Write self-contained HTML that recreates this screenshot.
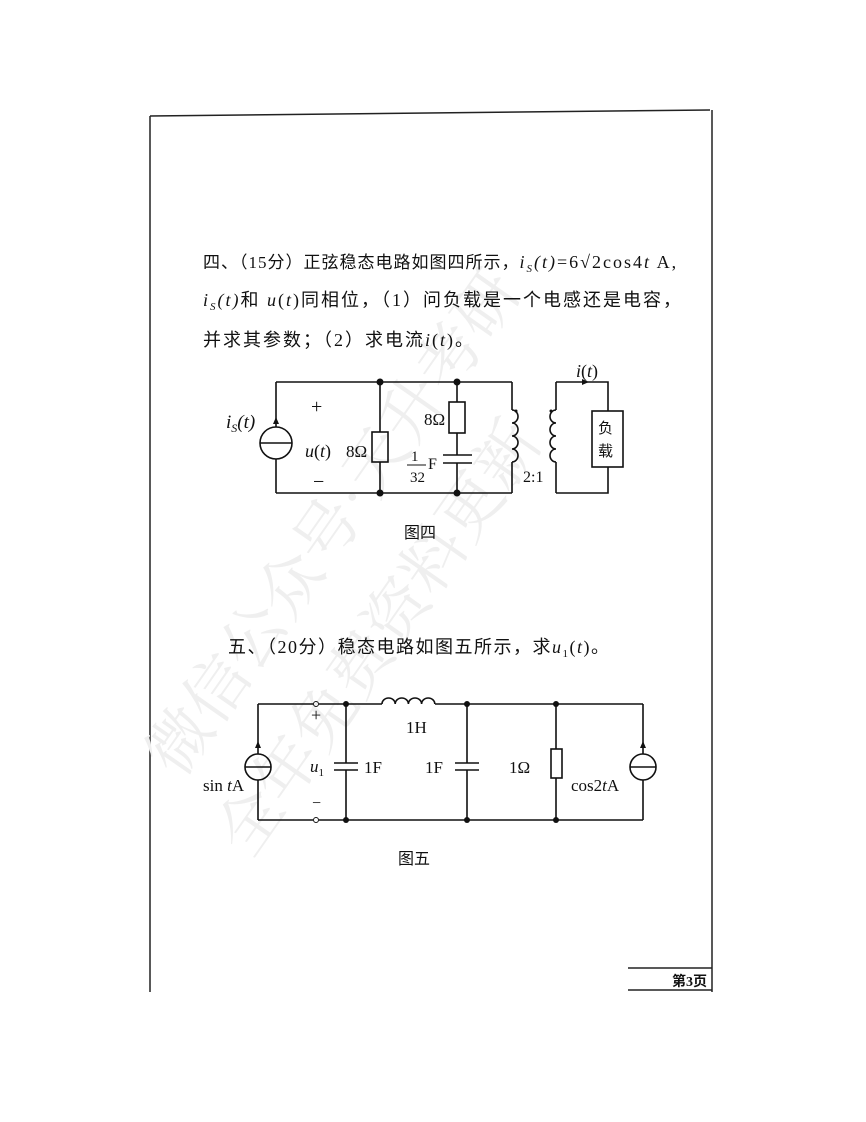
<!DOCTYPE html>
<html><head><meta charset="utf-8"><style>
body{margin:0;background:#fff;}
svg{display:block}
text{font-family:"Liberation Serif","Noto Serif CJK SC",serif;fill:#111}
.cn{font-family:"Liberation Serif","Noto Sans CJK SC",sans-serif}
</style></head><body>
<svg width="866" height="1122" viewBox="0 0 866 1122" xmlns="http://www.w3.org/2000/svg">
<g stroke="#222" stroke-width="1.5" fill="none">
<path d="M150 116 L150 992"/><path d="M150 116 L710 110"/><path d="M712 110 L712 992"/>
<path d="M628 968 L712 968"/><path d="M628 990 L712 990"/>
</g>
<text x="672" y="986" font-size="14" class="cn" font-weight="bold">第3页</text>
<!-- watermark -->
<g font-size="64" class="cn">
<text x="180" y="780" transform="rotate(-55 180 780)" style="fill:#efefef">微信公众号·天升考研</text>
<text x="250" y="860" transform="rotate(-55 250 860)" style="fill:#efefef">全年免费资料更新</text>
</g>
<!-- text -->
<text x="203" y="268" font-size="17" class="cn" letter-spacing="1">四、（15分）正弦稳态电路如图四所示，<tspan font-size="18" letter-spacing="2"><tspan font-style="italic">i<tspan font-size="11" dy="4">S</tspan><tspan dy="-4">(t)</tspan></tspan>=6√2cos4<tspan font-style="italic">t</tspan> A,</tspan></text>
<text x="203" y="306" font-size="18" class="cn" letter-spacing="2"><tspan font-style="italic">i<tspan font-size="11" dy="4">S</tspan><tspan dy="-4">(t)</tspan></tspan>和 <tspan font-style="italic">u</tspan>(<tspan font-style="italic">t</tspan>)同相位，（1）问负载是一个电感还是电容，</text>
<text x="203" y="346" font-size="18" class="cn" letter-spacing="2">并求其参数；（2）求电流<tspan font-style="italic">i</tspan>(<tspan font-style="italic">t</tspan>)。</text>
<text x="228" y="653" font-size="18" class="cn" letter-spacing="1.5">五、（20分）稳态电路如图五所示，求<tspan font-style="italic">u</tspan><tspan font-size="11" dy="4">1</tspan><tspan dy="-4">(</tspan><tspan font-style="italic">t</tspan>)。</text>
<text x="404" y="538" font-size="16" class="cn">图四</text>
<text x="398" y="864" font-size="16" class="cn">图五</text>
<!-- circuit 1 -->
<g stroke="#111" stroke-width="1.6" fill="none">
<path d="M276 382 H512 M276 493 H512 M276 382 V427 M276 459 V493"/>
<circle cx="276" cy="443" r="16"/><path d="M260 443 H292"/>
<path d="M380 382 V432 M380 462 V493"/><rect x="372" y="432" width="16" height="30"/>
<path d="M457 382 V402 M457 433 V455 M457 463 V493"/><rect x="449" y="402" width="16" height="31"/>
<path d="M443 455 H472 M443 463 H472"/>
<path d="M512 382 V410 M512 462 V493"/>
<path d="M512 410 a6 6.5 0 0 1 0 13 a6 6.5 0 0 1 0 13 a6 6.5 0 0 1 0 13 a6 6.5 0 0 1 0 13"/>
<path d="M556 382 V410 M556 462 V493 M556 382 H608 V411 M608 467 V493 H556"/>
<path d="M556 410 a6 6.5 0 0 0 0 13 a6 6.5 0 0 0 0 13 a6 6.5 0 0 0 0 13 a6 6.5 0 0 0 0 13"/>
<rect x="592" y="411" width="31" height="56"/>
</g>
<g fill="#111"><circle cx="380" cy="382" r="3.5"/><circle cx="457" cy="382" r="3.5"/><circle cx="380" cy="493" r="3.5"/><circle cx="457" cy="493" r="3.5"/>
<circle cx="516" cy="411" r="1.5"/><circle cx="551" cy="411" r="1.5"/>
<path d="M276 417 l-3 7 h6z"/><path d="M589 382 l-7 -3 v6z"/></g>
<text x="226" y="428" font-size="19" font-style="italic">i<tspan font-size="12" dy="4">S</tspan><tspan dy="-4">(t)</tspan></text>
<text x="311" y="413" font-size="20">+</text>
<text x="313" y="488" font-size="20">−</text>
<text x="305" y="457" font-size="18"><tspan font-style="italic">u</tspan>(<tspan font-style="italic">t</tspan>)</text>
<text x="346" y="457" font-size="17">8Ω</text>
<text x="424" y="425" font-size="17">8Ω</text>
<text x="411" y="461" font-size="15">1</text>
<path d="M407 465 H426" stroke="#111"/>
<text x="410" y="482" font-size="15">32</text>
<text x="428" y="469" font-size="16">F</text>
<text x="523" y="482" font-size="16">2:1</text>
<text x="576" y="377" font-size="18" font-style="italic">i<tspan font-style="normal">(</tspan>t<tspan font-style="normal">)</tspan></text>
<text x="598" y="433" font-size="15" class="cn">负</text>
<text x="598" y="456" font-size="15" class="cn">载</text>
<!-- circuit 2 -->
<g stroke="#111" stroke-width="1.6" fill="none">
<path d="M258 704 H313 M319 704 H382 M435 704 H643 M258 820 H313 M319 820 H643"/>
<path d="M258 704 V754 M258 780 V820 M643 704 V754 M643 780 V820"/>
<circle cx="258" cy="767" r="13"/><path d="M245 767 H271"/>
<circle cx="643" cy="767" r="13"/><path d="M630 767 H656"/>
<circle cx="316" cy="704" r="2.5" stroke-width="1"/><circle cx="316" cy="820" r="2.5" stroke-width="1"/>
<path d="M382 704 a6.6 6 0 0 1 13.2 0 a6.6 6 0 0 1 13.2 0 a6.6 6 0 0 1 13.2 0 a6.6 6 0 0 1 13.2 0"/>
<path d="M346 704 V763 M346 770 V820 M334 763 H358 M334 770 H358"/>
<path d="M467 704 V763 M467 770 V820 M455 763 H479 M455 770 H479"/>
<path d="M556 704 V749 M556 778 V820"/><rect x="551" y="749" width="11" height="29"/>
</g>
<g fill="#111"><circle cx="346" cy="704" r="3"/><circle cx="467" cy="704" r="3"/><circle cx="556" cy="704" r="3"/>
<circle cx="346" cy="820" r="3"/><circle cx="467" cy="820" r="3"/><circle cx="556" cy="820" r="3"/>
<path d="M258 741 l-3 7 h6z"/><path d="M643 741 l-3 7 h6z"/></g>
<text x="311" y="721" font-size="18">+</text>
<text x="312" y="808" font-size="16">−</text>
<text x="310" y="772" font-size="17" font-style="italic">u<tspan font-size="11" dy="4" font-style="normal">1</tspan></text>
<text x="364" y="773" font-size="17">1F</text>
<text x="425" y="773" font-size="17">1F</text>
<text x="406" y="733" font-size="17">1H</text>
<text x="509" y="773" font-size="17">1Ω</text>
<text x="203" y="791" font-size="17">sin<tspan font-style="italic"> t</tspan>A</text>
<text x="571" y="791" font-size="17">cos2<tspan font-style="italic">t</tspan>A</text>
</svg>
</body></html>
